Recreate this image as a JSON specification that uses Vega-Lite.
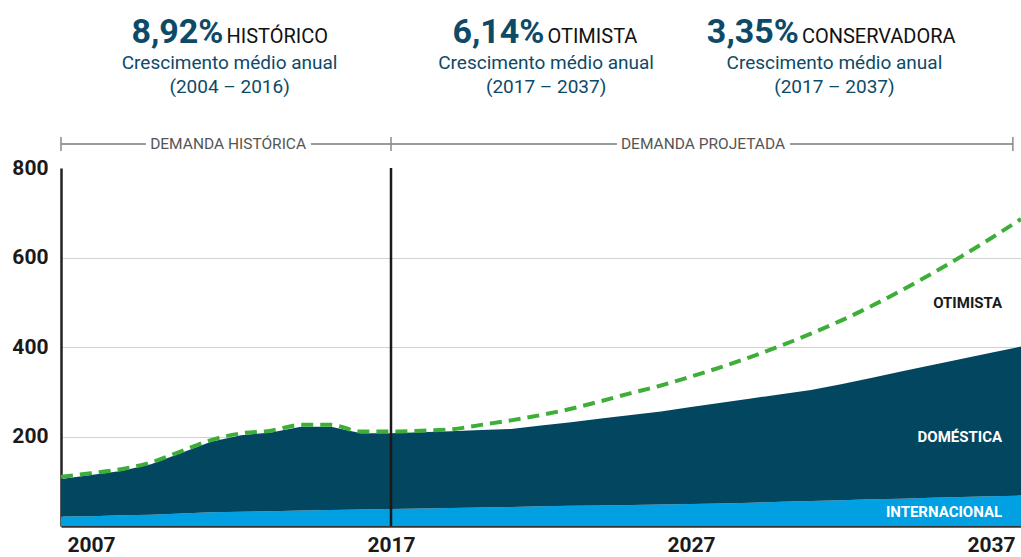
{
  "$schema": "https://vega.github.io/schema/vega-lite/v6.json",
  "width": 960,
  "height": 358,
  "autosize": {"type": "none"},
  "padding": {"left": 61, "top": 168, "right": 0, "bottom": 31},
  "background": "white",
  "config": {
    "view": {"stroke": null},
    "font": "Roboto, Liberation Sans, sans-serif"
  },
  "datasets": {
    "demanda": [
      {"ano": 2006, "internacional": 21, "domestica": 84, "otimista": 110},
      {"ano": 2007, "internacional": 22, "domestica": 92, "otimista": 118},
      {"ano": 2008, "internacional": 24, "domestica": 99, "otimista": 127},
      {"ano": 2009, "internacional": 25, "domestica": 113, "otimista": 142},
      {"ano": 2010, "internacional": 28, "domestica": 135, "otimista": 167},
      {"ano": 2011, "internacional": 31, "domestica": 157, "otimista": 192},
      {"ano": 2012, "internacional": 32, "domestica": 171, "otimista": 207},
      {"ano": 2013, "internacional": 33, "domestica": 176, "otimista": 213},
      {"ano": 2014, "internacional": 34.5, "domestica": 187.5, "otimista": 226},
      {"ano": 2015, "internacional": 35.5, "domestica": 186.5, "otimista": 226},
      {"ano": 2016, "internacional": 37, "domestica": 170, "otimista": 211},
      {"ano": 2017, "internacional": 38, "domestica": 169, "otimista": 211},
      {"ano": 2018, "internacional": 39, "domestica": 170.5, "otimista": 213},
      {"ano": 2019, "internacional": 40, "domestica": 172, "otimista": 216},
      {"ano": 2020, "internacional": 41.5, "domestica": 173, "otimista": 226},
      {"ano": 2021, "internacional": 42.5, "domestica": 174.5, "otimista": 236},
      {"ano": 2022, "internacional": 44, "domestica": 180.5, "otimista": 248},
      {"ano": 2023, "internacional": 45, "domestica": 187, "otimista": 262},
      {"ano": 2024, "internacional": 46, "domestica": 194, "otimista": 279},
      {"ano": 2025, "internacional": 47, "domestica": 201, "otimista": 297},
      {"ano": 2026, "internacional": 48, "domestica": 208, "otimista": 314},
      {"ano": 2027, "internacional": 49, "domestica": 217, "otimista": 334},
      {"ano": 2028, "internacional": 50.5, "domestica": 225, "otimista": 355},
      {"ano": 2029, "internacional": 52, "domestica": 233, "otimista": 378},
      {"ano": 2030, "internacional": 54, "domestica": 240.5, "otimista": 403},
      {"ano": 2031, "internacional": 56, "domestica": 248, "otimista": 430},
      {"ano": 2032, "internacional": 57.5, "domestica": 259, "otimista": 459},
      {"ano": 2033, "internacional": 59.5, "domestica": 271.5, "otimista": 491},
      {"ano": 2034, "internacional": 61, "domestica": 284, "otimista": 526},
      {"ano": 2035, "internacional": 63, "domestica": 296, "otimista": 563},
      {"ano": 2036, "internacional": 65, "domestica": 308, "otimista": 602},
      {"ano": 2037, "internacional": 66.5, "domestica": 320.5, "otimista": 643},
      {"ano": 2038, "internacional": 68, "domestica": 333, "otimista": 686}
    ]
  },
  "layer": [
    {
      "data": {"name": "demanda"},
      "transform": [{"fold": ["internacional", "domestica"], "as": ["serie", "valor"]}],
      "mark": {"type": "area", "interpolate": "linear"},
      "encoding": {
        "x": {
          "field": "ano", "type": "quantitative",
          "scale": {"domain": [2006, 2038], "nice": false, "zero": false},
          "axis": {
            "title": null, "values": [2007, 2017, 2027, 2037], "format": "d",
            "ticks": false, "grid": false,
            "labelFontSize": 21, "labelFontWeight": "bold", "labelColor": "#1a1a1a",
            "labelPadding": 8, "labelFlush": false,
            "domainColor": "#333333", "domainWidth": 2.5
          }
        },
        "y": {
          "field": "valor", "type": "quantitative", "stack": "zero",
          "scale": {"domain": [0, 800], "nice": false},
          "axis": {
            "title": null, "values": [200, 400, 600, 800],
            "ticks": false, "grid": true,
            "gridColor": {"condition": {"test": "datum.value >= 800", "value": "transparent"}, "value": "#d2d2d2"},
            "gridWidth": 1.2,
            "labelFontSize": 21, "labelFontWeight": "bold", "labelColor": "#1a1a1a",
            "labelPadding": 13, "labelBaseline": "middle",
            "domainColor": "#222222", "domainWidth": 2.5
          }
        },
        "color": {
          "field": "serie", "type": "nominal",
          "scale": {"domain": ["internacional", "domestica"], "range": ["#00a0e3", "#03465f"]},
          "legend": null
        },
        "order": {"field": "serie", "sort": "descending"}
      }
    },
    {
      "data": {"name": "demanda"},
      "mark": {"type": "line", "interpolate": "monotone", "color": "#3dae38", "strokeWidth": 4, "strokeDash": [12, 7]},
      "encoding": {
        "x": {"field": "ano", "type": "quantitative"},
        "y": {"field": "otimista", "type": "quantitative"}
      }
    },
    {
      "data": {"values": [{"ano": 2017, "base": 0, "topo": 800}]},
      "mark": {"type": "rule", "color": "#1a1a1a", "strokeWidth": 2.5},
      "encoding": {
        "x": {"field": "ano", "type": "quantitative"},
        "y": {"field": "base", "type": "quantitative"},
        "y2": {"field": "topo"}
      }
    },
    {
      "data": {"values": [
        {"inicio": 2006, "fim": 2008.83, "nivel": 853.6},
        {"inicio": 2014.33, "fim": 2017, "nivel": 853.6},
        {"inicio": 2017, "fim": 2024.53, "nivel": 853.6},
        {"inicio": 2030.3, "fim": 2037.73, "nivel": 853.6}
      ]},
      "mark": {"type": "rule", "color": "#9a9a9a", "strokeWidth": 2},
      "encoding": {
        "x": {"field": "inicio", "type": "quantitative"},
        "x2": {"field": "fim"},
        "y": {"field": "nivel", "type": "quantitative"}
      }
    },
    {
      "data": {"values": [
        {"ano": 2006, "baixo": 838, "alto": 869},
        {"ano": 2017, "baixo": 838, "alto": 869},
        {"ano": 2037.73, "baixo": 838, "alto": 869}
      ]},
      "mark": {"type": "rule", "color": "#8a8a8a", "strokeWidth": 1.5},
      "encoding": {
        "x": {"field": "ano", "type": "quantitative"},
        "y": {"field": "baixo", "type": "quantitative"},
        "y2": {"field": "alto"}
      }
    },
    {
      "data": {"values": [
        {"texto": "DEMANDA HISTÓRICA", "ano": 2011.57, "nivel": 842},
        {"texto": "DEMANDA PROJETADA", "ano": 2027.4, "nivel": 842}
      ]},
      "mark": {"type": "text", "align": "center", "baseline": "alphabetic", "fontSize": 15.5, "color": "#555555"},
      "encoding": {
        "x": {"field": "ano", "type": "quantitative"},
        "y": {"field": "nivel", "type": "quantitative"},
        "text": {"field": "texto"}
      }
    },
    {
      "data": {"values": [
        {"texto": "8,92%", "ano": 2011.45, "nivel": 1079},
        {"texto": "6,14%", "ano": 2022.15, "nivel": 1079},
        {"texto": "3,35%", "ano": 2030.63, "nivel": 1079}
      ]},
      "mark": {"type": "text", "align": "right", "baseline": "alphabetic", "dx": -1, "fontSize": 34, "fontWeight": "bold", "color": "#0d4a68"},
      "encoding": {
        "x": {"field": "ano", "type": "quantitative"},
        "y": {"field": "nivel", "type": "quantitative"},
        "text": {"field": "texto"}
      }
    },
    {
      "data": {"values": [
        {"texto": "HISTÓRICO", "ano": 2011.45, "nivel": 1079},
        {"texto": "OTIMISTA", "ano": 2022.15, "nivel": 1079},
        {"texto": "CONSERVADORA", "ano": 2030.63, "nivel": 1079}
      ]},
      "mark": {"type": "text", "align": "left", "baseline": "alphabetic", "dx": 2, "fontSize": 20, "color": "#111111"},
      "encoding": {
        "x": {"field": "ano", "type": "quantitative"},
        "y": {"field": "nivel", "type": "quantitative"},
        "text": {"field": "texto"}
      }
    },
    {
      "data": {"values": [
        {"texto": "Crescimento médio anual", "ano": 2011.62, "nivel": 1022},
        {"texto": "(2004 – 2016)", "ano": 2011.62, "nivel": 968.7},
        {"texto": "Crescimento médio anual", "ano": 2022.17, "nivel": 1022},
        {"texto": "(2017 – 2037)", "ano": 2022.17, "nivel": 968.7},
        {"texto": "Crescimento médio anual", "ano": 2031.78, "nivel": 1022},
        {"texto": "(2017 – 2037)", "ano": 2031.78, "nivel": 968.7}
      ]},
      "mark": {"type": "text", "align": "center", "baseline": "alphabetic", "fontSize": 19, "color": "#0d4a68"},
      "encoding": {
        "x": {"field": "ano", "type": "quantitative"},
        "y": {"field": "nivel", "type": "quantitative"},
        "text": {"field": "texto"}
      }
    },
    {
      "data": {"values": [
        {"texto": "OTIMISTA", "ano": 2037.37, "nivel": 498}
      ]},
      "mark": {"type": "text", "align": "right", "baseline": "middle", "fontSize": 15, "fontWeight": "bold", "color": "#1a1a1a"},
      "encoding": {
        "x": {"field": "ano", "type": "quantitative"},
        "y": {"field": "nivel", "type": "quantitative"},
        "text": {"field": "texto"}
      }
    },
    {
      "data": {"values": [
        {"texto": "DOMÉSTICA", "ano": 2037.37, "nivel": 199},
        {"texto": "INTERNACIONAL", "ano": 2037.37, "nivel": 31}
      ]},
      "mark": {"type": "text", "align": "right", "baseline": "middle", "fontSize": 15, "fontWeight": "bold", "color": "#ffffff"},
      "encoding": {
        "x": {"field": "ano", "type": "quantitative"},
        "y": {"field": "nivel", "type": "quantitative"},
        "text": {"field": "texto"}
      }
    }
  ]
}
